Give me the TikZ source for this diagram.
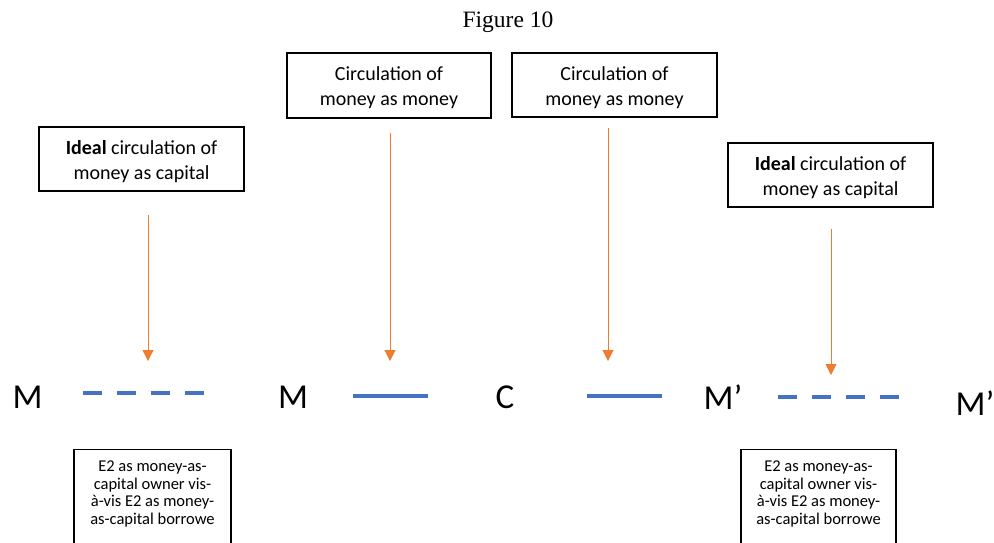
\documentclass[tikz,border=0pt]{standalone}
\usepackage{fontspec}
\setmainfont{Carlito}
\newfontfamily\titlefont{Liberation Serif}
\usetikzlibrary{arrows.meta}
\definecolor{lineblue}{HTML}{4472C4}
\definecolor{arroworange}{HTML}{ED7D31}
\begin{document}
\begin{tikzpicture}[x=1pt,y=-1pt,
  labelbox/.style={draw=black, line width=1.3pt, inner sep=0pt},
  labeltext/.style={align=center, inner sep=0pt, font=\fontsize{20}{25}\selectfont, yshift=-2.5pt},
  notebox/.style={draw=black, line width=1.3pt, inner sep=0pt},
  notetext/.style={align=center, inner sep=0pt, font=\fontsize{16.5}{17.5}\selectfont},
  pointer/.style={draw=arroworange, line width=1pt, -{Triangle[width=11pt,length=11pt]}},
  solidseg/.style={draw=lineblue, line width=4pt},
  dashseg/.style={draw=lineblue, line width=4pt, dash pattern=on 19pt off 15pt},
  letter/.style={inner sep=0pt, font=\fontsize{35}{40}\selectfont}]
\useasboundingbox (0,0) rectangle (994,542);
\clip (0,0) rectangle (994,542);
\node[font=\titlefont\fontsize{23.5}{26}\selectfont] (title) at (508,22) {Figure 10};
% top boxes
\node[labelbox, minimum width=205pt, minimum height=64pt, label={[labeltext]center:{\textbf{Ideal} circulation of\\money as capital}}] (ideal1) at (141.5,159) {};
\node[labelbox, minimum width=204pt, minimum height=65pt, label={[labeltext]center:{Circulation of\\money as money}}] (circ1) at (389,85.5) {};
\node[labelbox, minimum width=205pt, minimum height=64pt, label={[labeltext]center:{Circulation of\\money as money}}] (circ2) at (614.5,85) {};
\node[labelbox, minimum width=205pt, minimum height=64pt, label={[labeltext]center:{\textbf{Ideal} circulation of\\money as capital}}] (ideal2) at (830.5,175) {};
% letters
\node[letter] (m1) at (27.5,397) {M};
\node[letter] (m2) at (293,397) {M};
\node[letter] (c1) at (505,397) {C};
\node[letter] (mp1) at (723,397) {M’};
\node[letter] (mp2) at (975,403) {M’};
% segments
\coordinate (d1a) at (83,393); \coordinate (d1b) at (204,393);
\coordinate (s1a) at (353,396); \coordinate (s1b) at (428,396);
\coordinate (s2a) at (587,396); \coordinate (s2b) at (662,396);
\coordinate (d2a) at (778,397); \coordinate (d2b) at (900,397);
\draw[dashseg] (d1a) -- (d1b);
\draw[solidseg] (s1a) -- (s1b);
\draw[solidseg] (s2a) -- (s2b);
\draw[dashseg] (d2a) -- (d2b);
% arrows
\coordinate (a1s) at (148,215); \coordinate (a1e) at (148,361);
\coordinate (a2s) at (390,133); \coordinate (a2e) at (390,361);
\coordinate (a3s) at (608,128); \coordinate (a3e) at (608,361);
\coordinate (a4s) at (831,229); \coordinate (a4e) at (831,375);
\draw[pointer] (a1s) -- (a1e);
\draw[pointer] (a2s) -- (a2e);
\draw[pointer] (a3s) -- (a3e);
\draw[pointer] (a4s) -- (a4e);
% bottom boxes
\node[notebox, minimum width=157pt, minimum height=110pt, anchor=north] (note1) at (152.5,449) {};
\node[notebox, minimum width=155pt, minimum height=110pt, anchor=north] (note2) at (818.5,449) {};
\node[notetext] (t1) at (152.5,494) {E2 as money-as-\\capital owner vis-\\à-vis E2 as money-\\as-capital borrowe};
\node[notetext] (t2) at (818.5,494) {E2 as money-as-\\capital owner vis-\\à-vis E2 as money-\\as-capital borrowe};
\end{tikzpicture}
\end{document}
